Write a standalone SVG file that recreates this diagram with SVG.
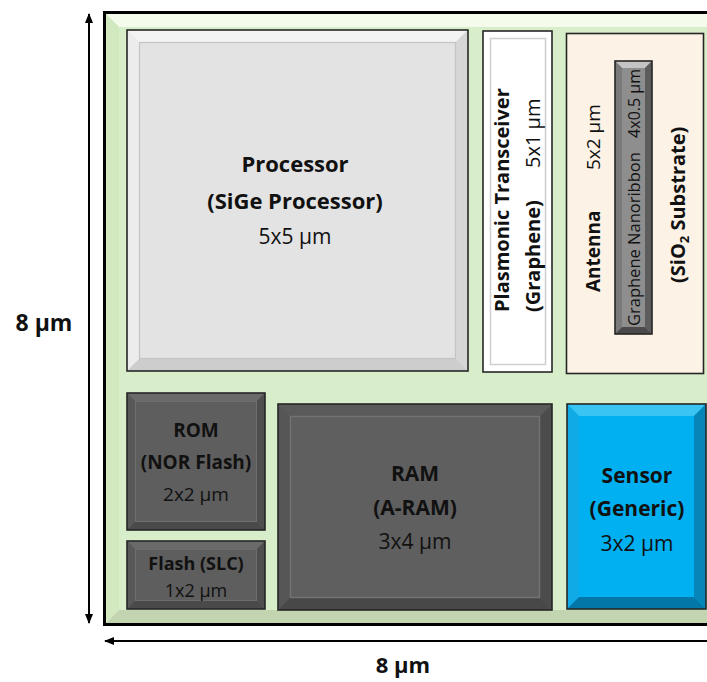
<svg xmlns="http://www.w3.org/2000/svg" width="707" height="682" viewBox="0 0 707 682">
<defs>
<style>
text{font-family:"Open Sans","Noto Sans","Liberation Sans",sans-serif;fill:#111;text-anchor:middle}
.b{font-weight:bold}
.edge{fill:none;stroke:#262626;stroke-width:1.6}
.arr{stroke:#000;stroke-width:2;fill:none}
</style>
<marker id="ah" viewBox="0 0 10 10" refX="9" refY="5" markerWidth="10" markerHeight="10" markerUnits="userSpaceOnUse" orient="auto-start-reverse">
<path d="M0,1 L10,5 L0,9 Z" fill="#000"/>
</marker>
</defs>

<!-- chip panel -->
<g id="chip">
<rect x="106" y="14" width="620" height="609" fill="#d8edc9"/>
<polygon points="106,14 726,14 713,27 119,27" fill="#f5fbea"/>
<polygon points="106,14 119,27 119,610 106,623" fill="#d2e9bf"/>
<polygon points="106,623 726,623 713,610 119,610" fill="#c3d5b0"/>
<rect x="104.5" y="12.5" width="630" height="612" fill="none" stroke="#000" stroke-width="3"/>
</g>

<g id="processor">
<rect x="127" y="30" width="341" height="341" fill="#e3e3e3"/>
<polygon points="127,30 468,30 456,42 139,42" fill="#f3f3f3"/>
<polygon points="127,30 139,42 139,359 127,371" fill="#ececec"/>
<polygon points="468,30 468,371 456,359 456,42" fill="#d6d6d6"/>
<polygon points="127,371 468,371 456,359 139,359" fill="#cdcdcd"/>
<rect x="139.5" y="42.5" width="316" height="316" fill="#e3e3e3" stroke="#c4c4c4" stroke-width="1.2"/>
<rect x="127" y="30" width="341" height="341" class="edge"/>
<text x="295" y="172" class="b" font-size="22">Processor</text>
<text x="295" y="209" class="b" font-size="22">(SiGe Processor)</text>
<text x="295" y="244" font-size="21">5x5 µm</text>
</g>

<g id="transceiver">
<rect x="483" y="31" width="69" height="341" fill="#fff"/>
<rect x="490.5" y="38.5" width="55" height="326" fill="#fff" stroke="#cfcfcf" stroke-width="1.5"/>
<rect x="483" y="31" width="69" height="341" class="edge"/>
<text transform="translate(509,312) rotate(-90)" class="b" font-size="20" style="text-anchor:start">Plasmonic Transceiver</text>
<text transform="translate(540,312) rotate(-90)" class="b" font-size="20" style="text-anchor:start">(Graphene)</text>
<text transform="translate(540,168) rotate(-90)" font-size="20" style="text-anchor:start">5x1 µm</text>
</g>

<g id="antenna">
<rect x="566.5" y="33.5" width="137" height="340" fill="#fdf2e6" stroke="#262626" stroke-width="1.6"/>
<text transform="translate(600,292) rotate(-90)" class="b" font-size="19" style="text-anchor:start">Antenna</text>
<text transform="translate(600,170) rotate(-90)" font-size="19" style="text-anchor:start">5x2 µm</text>
<text transform="translate(685,283) rotate(-90)" class="b" font-size="20" style="text-anchor:start">(SiO<tspan font-size="13" dy="4">2</tspan><tspan dy="-4"> Substrate)</tspan></text>
</g>

<g id="nanoribbon">
<rect x="615" y="61" width="37" height="273" fill="#8e8e8e"/>
<polygon points="615,61 652,61 645,68 622,68" fill="#c4c4c4"/>
<polygon points="615,61 622,68 622,327 615,334" fill="#7a7a7a"/>
<polygon points="652,61 652,334 645,327 645,68" fill="#5c5c5c"/>
<polygon points="615,334 652,334 645,327 622,327" fill="#4a4a4a"/>
<rect x="615" y="61" width="37" height="273" class="edge"/>
<text transform="translate(640,326) rotate(-90)" font-size="16.5" style="text-anchor:start">Graphene Nanoribbon</text>
<text transform="translate(640,69) rotate(-90)" font-size="16" style="text-anchor:end">4x0.5 µm</text>
</g>

<g id="rom">
<rect x="127" y="393" width="138" height="137" fill="#5e5e5e"/>
<polygon points="127,393 265,393 257,401 135,401" fill="#6a6a6a"/>
<polygon points="127,393 135,401 135,522 127,530" fill="#585858"/>
<polygon points="265,393 265,530 257,522 257,401" fill="#4e4e4e"/>
<polygon points="127,530 265,530 257,522 135,522" fill="#4a4a4a"/>
<rect x="135.5" y="401.5" width="121" height="120" fill="#5e5e5e" stroke="#6e6e6e" stroke-width="1"/>
<rect x="127" y="393" width="138" height="137" class="edge"/>
<text x="196" y="437" class="b" font-size="19">ROM</text>
<text x="196" y="469" class="b" font-size="19">(NOR Flash)</text>
<text x="196" y="501" font-size="19">2x2 µm</text>
</g>

<g id="flash">
<rect x="127" y="541" width="138" height="68" fill="#5e5e5e"/>
<polygon points="127,541 265,541 257,549 135,549" fill="#6a6a6a"/>
<polygon points="127,541 135,549 135,601 127,609" fill="#585858"/>
<polygon points="265,541 265,609 257,601 257,549" fill="#4e4e4e"/>
<polygon points="127,609 265,609 257,601 135,601" fill="#4a4a4a"/>
<rect x="135.5" y="549.5" width="121" height="51" fill="#5e5e5e" stroke="#6e6e6e" stroke-width="1"/>
<rect x="127" y="541" width="138" height="68" class="edge"/>
<text x="196" y="570" class="b" font-size="18">Flash (SLC)</text>
<text x="196" y="597" font-size="18">1x2 µm</text>
</g>

<g id="ram">
<rect x="278" y="404" width="274" height="206" fill="#5e5e5e"/>
<polygon points="278,404 552,404 540,416 290,416" fill="#5a5a5a"/>
<polygon points="278,404 290,416 290,598 278,610" fill="#565656"/>
<polygon points="552,404 552,610 540,598 540,416" fill="#4c4c4c"/>
<polygon points="278,610 552,610 540,598 290,598" fill="#484848"/>
<rect x="290.5" y="416.5" width="249" height="181" fill="#5f5f5f" stroke="#727272" stroke-width="1.5"/>
<rect x="278" y="404" width="274" height="206" class="edge"/>
<text x="415" y="481" class="b" font-size="21">RAM</text>
<text x="415" y="515" class="b" font-size="21">(A-RAM)</text>
<text x="415" y="549" font-size="21">3x4 µm</text>
</g>

<g id="sensor">
<rect x="567" y="404" width="139" height="205" fill="#00b0f0"/>
<polygon points="567,404 706,404 694,416 579,416" fill="#3ac4f4"/>
<polygon points="567,404 579,416 579,597 567,609" fill="#10aae6"/>
<polygon points="706,404 706,609 694,597 694,416" fill="#0585b8"/>
<polygon points="567,609 706,609 694,597 579,597" fill="#0378a8"/>
<rect x="567" y="404" width="139" height="205" class="edge"/>
<text x="637" y="483" class="b" font-size="21">Sensor</text>
<text x="637" y="516" class="b" font-size="21">(Generic)</text>
<text x="637" y="551" font-size="21">3x2 µm</text>
</g>

<g id="connectors">
<line x1="89" y1="14" x2="89" y2="623" class="arr" marker-start="url(#ah)" marker-end="url(#ah)"/>
<line x1="105" y1="641" x2="720" y2="641" class="arr" marker-start="url(#ah)"/>
</g>

<g id="labels">
<text x="44" y="331" class="b" font-size="23">8 µm</text>
<text x="403" y="673" class="b" font-size="22">8 µm</text>
</g>
</svg>
